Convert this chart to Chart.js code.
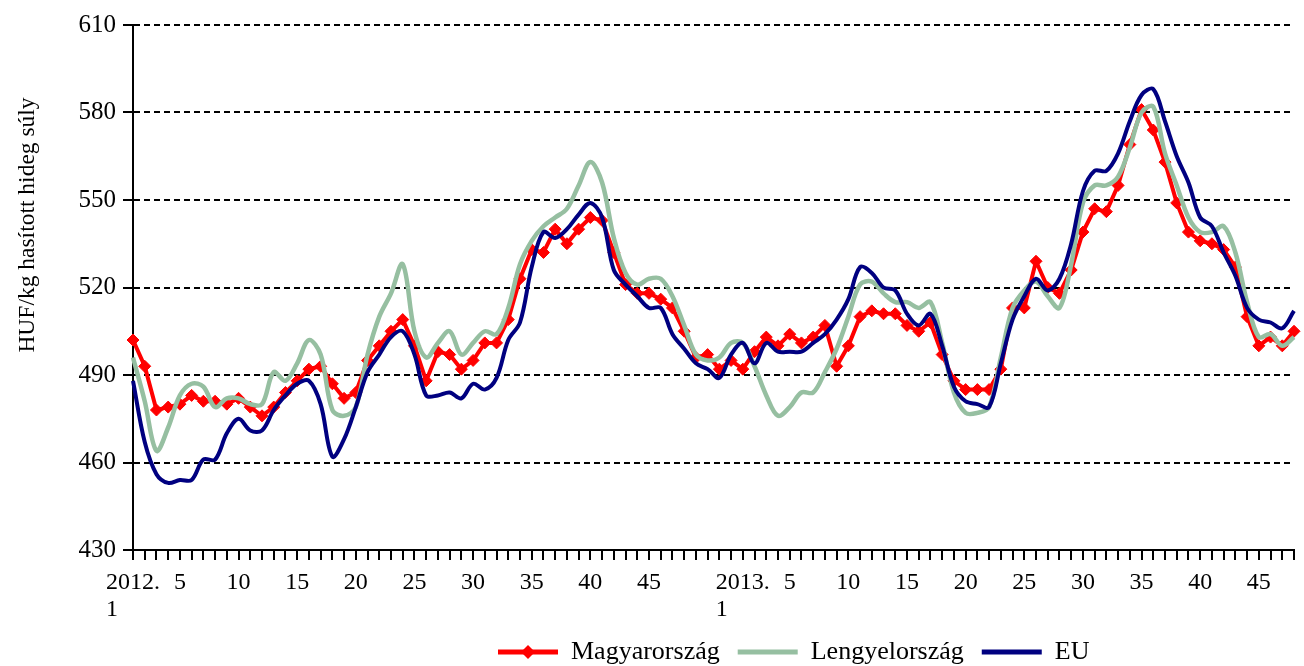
<!DOCTYPE html>
<html>
<head>
<meta charset="utf-8">
<title>HUF/kg hasított hideg súly</title>
<script src="https://cdn.jsdelivr.net/npm/chart.js@4"></script>
<style>
  html, body { margin: 0; padding: 0; background: #fff; }
  #priceChart { display: block; }
</style>
</head>
<body>
<canvas id="priceChart" width="1304" height="666"></canvas>
<script>
// weeks of 2012 and 2013 (2013 runs to week 48)
const categories = [
  '2012. 1','2','3','4','5','6','7','8','9','10','11','12','13','14','15','16','17','18','19','20',
  '21','22','23','24','25','26','27','28','29','30','31','32','33','34','35','36','37','38','39','40',
  '41','42','43','44','45','46','47','48','49','50','51','52',
  '2013. 1','2','3','4','5','6','7','8','9','10','11','12','13','14','15','16','17','18','19','20',
  '21','22','23','24','25','26','27','28','29','30','31','32','33','34','35','36','37','38','39','40',
  '41','42','43','44','45','46','47','48'
];

// week numbers that get a label on the x axis
const shownWeeks = ['5', '10', '15', '20', '25', '30', '35', '40', '45'];

const magyarorszag = [
  502, 493, 478, 479, 480, 483, 481, 481, 480, 482,
  479, 476, 479, 484, 488, 492, 493, 487, 482, 484,
  495, 500, 505, 509, 500, 488, 498, 497, 492, 495,
  501, 501, 509, 523, 533, 532, 540, 535, 540, 544,
  543, 532, 521, 518, 518, 516, 513, 505, 496, 497,
  492, 495, 492, 498, 503, 500, 504, 501, 503, 507,
  493, 500, 510, 512, 511, 511, 507, 505, 508, 497,
  488, 485, 485, 485, 492, 513, 513, 529, 520, 518,
  526, 539, 547, 546, 555, 569, 581, 574, 563, 549,
  539, 536, 535, 533, 527, 510, 500, 503, 500, 505
];

const lengyelorszag = [
  496, 481, 464, 472, 483, 487, 486, 479, 482, 482,
  480, 480, 491, 488, 494, 502, 497, 478, 476, 479,
  497, 510, 518, 528, 505, 496, 501, 505, 497, 501,
  505, 504, 513, 528, 536, 541, 544, 547, 555, 563,
  556, 537, 525, 521, 523, 523, 517, 507, 497, 495,
  496, 501, 501, 493, 483, 476, 479, 484, 484, 491,
  499, 510, 521, 522, 518, 515, 515, 513, 515, 501,
  484, 477, 477, 479, 496, 513, 519, 522, 517, 513,
  528, 549, 555, 555, 558, 568, 580, 582, 566, 555,
  544, 539, 539, 541, 532, 515, 503, 504, 500, 503
];

const eu = [
  488, 467, 456, 453, 454, 454, 461, 461, 470, 475,
  471, 471, 478, 483, 487, 488, 480, 462, 468, 479,
  491, 497, 503, 505, 497, 483, 483, 484, 482, 487,
  485, 489, 502, 508, 527, 539, 537, 540, 545, 549,
  544, 526, 521, 517, 513, 513, 504, 499, 494, 492,
  489, 497, 501, 494, 501, 498, 498, 498, 501, 504,
  509, 516, 527, 525, 520, 519, 511, 507, 511, 500,
  486, 481, 480, 479, 494, 509, 517, 523, 519, 523,
  535, 553, 560, 560, 566, 577, 586, 588, 577, 565,
  556, 544, 541, 532, 524, 513, 509, 508, 506, 512
];

const seriesNames = ['Magyarország', 'Lengyelország', 'EU'];
const seriesColors = ['#FF0000', '#96BFA1', '#000080'];
const yTitle = 'HUF/kg hasított hideg súly';
const yMin = 430, yMax = 610, yStep = 30;

const serif = '"Liberation Serif", "Times New Roman", serif';

// y title, legend position and the diamond on the first legend line
const extras = {
  id: 'extras',
  afterLayout(chart) {
    chart.legend.left = 480;
    chart.legend.top = 621;
  },
  afterDraw(chart) {
    const ctx = chart.ctx;
    ctx.save();
    ctx.translate(28, 225);
    ctx.rotate(-Math.PI / 2);
    ctx.font = '23.5px ' + serif;
    ctx.fillStyle = '#000';
    ctx.textAlign = 'center';
    ctx.textBaseline = 'middle';
    ctx.fillText(yTitle, 0, 0);
    ctx.restore();

    const lg = chart.legend;
    const pad = lg.options.labels.padding;
    const cx = lg.left + pad + lg.options.labels.boxWidth / 2;
    const cy = lg.top + pad + 13;
    ctx.save();
    ctx.fillStyle = seriesColors[0];
    ctx.beginPath();
    ctx.moveTo(cx, cy - 7);
    ctx.lineTo(cx + 7, cy);
    ctx.lineTo(cx, cy + 7);
    ctx.lineTo(cx - 7, cy);
    ctx.closePath();
    ctx.fill();
    ctx.restore();
  }
};

new Chart(document.getElementById('priceChart'), {
  type: 'line',
  data: {
    labels: categories,
    datasets: [
      {
        label: seriesNames[0],
        data: magyarorszag,
        borderColor: seriesColors[0],
        backgroundColor: seriesColors[0],
        borderWidth: 4,
        tension: 0,
        pointStyle: 'rectRot',
        pointRadius: 6,
        pointBorderWidth: 1,
        pointBackgroundColor: seriesColors[0],
        pointBorderColor: seriesColors[0],
        clip: false,
        order: 3
      },
      {
        label: seriesNames[1],
        data: lengyelorszag,
        borderColor: seriesColors[1],
        backgroundColor: seriesColors[1],
        borderWidth: 4.5,
        tension: 0.35,
        pointRadius: 0,
        clip: false,
        order: 2
      },
      {
        label: seriesNames[2],
        data: eu,
        borderColor: seriesColors[2],
        backgroundColor: seriesColors[2],
        borderWidth: 4,
        tension: 0.35,
        pointRadius: 0,
        clip: false,
        order: 1
      }
    ]
  },
  options: {
    responsive: false,
    animation: false,
    devicePixelRatio: 1,
    events: [],
    layout: { padding: { left: 0, right: 2, top: 25, bottom: 0 } },
    scales: {
      x: {
        offset: false,
        afterFit: (scale) => { scale.height = 74; },
        grid: {
          drawOnChartArea: false,
          color: '#000',
          lineWidth: 2,
          tickLength: 10
        },
        border: { color: '#000', width: 2 },
        ticks: {
          autoSkip: false,
          maxRotation: 0,
          minRotation: 0,
          padding: 10,
          color: '#000',
          font: { family: serif, size: 24, lineHeight: 1.1 },
          callback: function (value, index) {
            const lab = categories[index];
            if (lab.indexOf('.') > 0) {
              const parts = lab.split(' ');
              return [parts[0], parts[1] + '       '];
            }
            return shownWeeks.includes(lab) ? lab : '';
          }
        }
      },
      y: {
        min: yMin,
        max: yMax,
        afterFit: (scale) => { scale.width = 133; },
        grid: {
          color: '#000',
          lineWidth: 2,
          tickLength: 10,
          tickBorderDash: []
        },
        border: { color: '#000', width: 2, dash: [6, 4] },
        ticks: {
          stepSize: yStep,
          padding: 7,
          color: '#000',
          font: { family: serif, size: 25, lineHeight: 1.1 }
        }
      }
    },
    plugins: {
      tooltip: { enabled: false },
      legend: {
        position: 'bottom',
        align: 'start',
        maxHeight: 42,
        labels: {
          boxWidth: 60,
          boxHeight: 5,
          padding: 18,
          color: '#000',
          font: { family: serif, size: 26 },
          generateLabels: (chart) => chart.data.datasets.map((ds, i) => ({
            text: ds.label,
            fillStyle: ds.borderColor,
            strokeStyle: ds.borderColor,
            lineWidth: 0,
            hidden: false,
            datasetIndex: i,
            fontColor: '#000'
          }))
        }
      }
    }
  },
  plugins: [extras]
});
</script>
</body>
</html>
